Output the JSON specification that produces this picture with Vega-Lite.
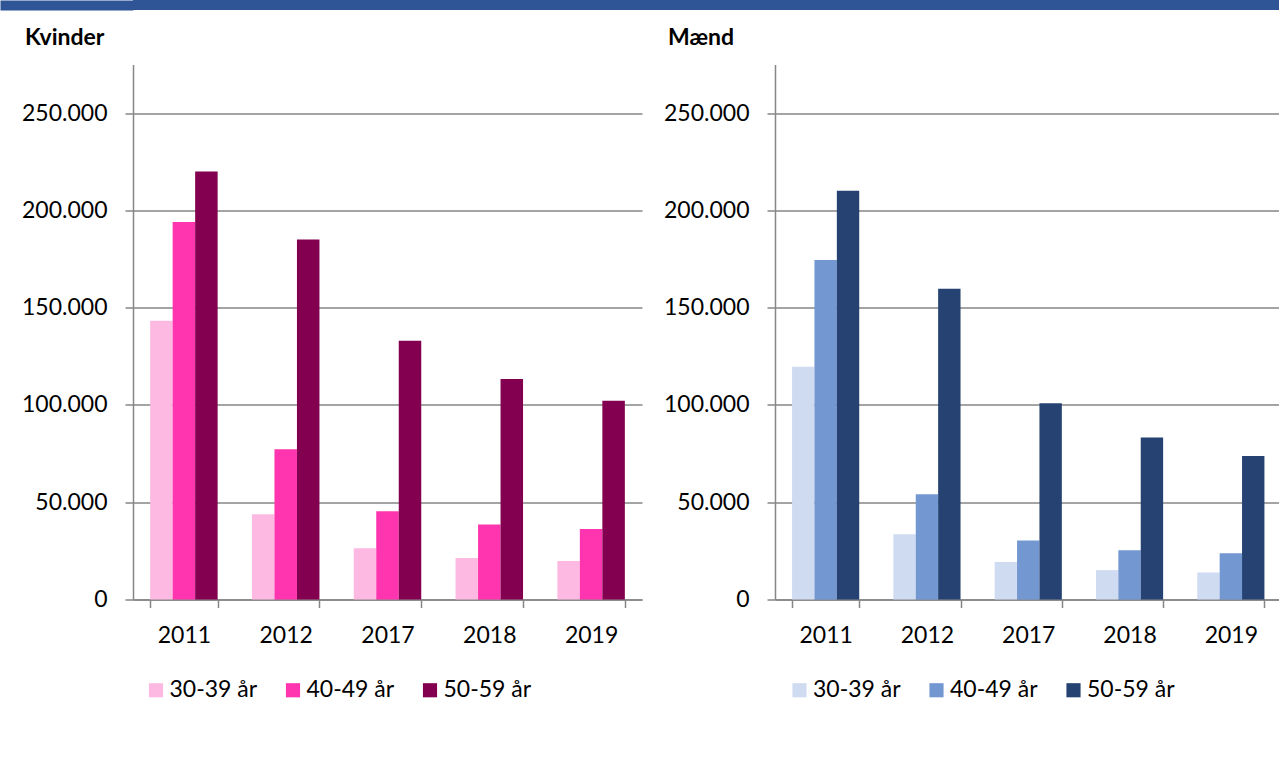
{
  "$schema": "https://vega.github.io/schema/vega-lite/v6.json",
  "padding": {"left": -5, "top": 0, "right": 0, "bottom": 0},
  "background": "white",
  "spacing": 16.5,
  "columns": 1,
  "align": "none",
  "config": {
    "font": "Lato",
    "locale": {"number": {"decimal": ",", "thousands": ".", "grouping": [3], "currency": ["", " kr."]}},
    "axis": {"labelFont": "Lato", "labelFontSize": 23, "labelColor": "#000000", "domainColor": "#868686", "tickColor": "#868686", "gridColor": "#868686", "domainWidth": 1.5, "tickWidth": 1.5, "gridWidth": 1.5},
    "legend": {"labelFont": "Lato", "labelFontSize": 23, "labelColor": "#000000"},
    "view": {"stroke": null}
  },
  "datasets": {
    "kvinder": [
      {"aar": "2011", "alder": "30-39 år", "antal": 143300},
      {"aar": "2011", "alder": "40-49 år", "antal": 194100},
      {"aar": "2011", "alder": "50-59 år", "antal": 220000},
      {"aar": "2012", "alder": "30-39 år", "antal": 43800},
      {"aar": "2012", "alder": "40-49 år", "antal": 77200},
      {"aar": "2012", "alder": "50-59 år", "antal": 185100},
      {"aar": "2017", "alder": "30-39 år", "antal": 26300},
      {"aar": "2017", "alder": "40-49 år", "antal": 45300},
      {"aar": "2017", "alder": "50-59 år", "antal": 133000},
      {"aar": "2018", "alder": "30-39 år", "antal": 21300},
      {"aar": "2018", "alder": "40-49 år", "antal": 38600},
      {"aar": "2018", "alder": "50-59 år", "antal": 113300},
      {"aar": "2019", "alder": "30-39 år", "antal": 19800},
      {"aar": "2019", "alder": "40-49 år", "antal": 36200},
      {"aar": "2019", "alder": "50-59 år", "antal": 102200}
    ],
    "maend": [
      {"aar": "2011", "alder": "30-39 år", "antal": 119600},
      {"aar": "2011", "alder": "40-49 år", "antal": 174500},
      {"aar": "2011", "alder": "50-59 år", "antal": 210100},
      {"aar": "2012", "alder": "30-39 år", "antal": 33500},
      {"aar": "2012", "alder": "40-49 år", "antal": 54100},
      {"aar": "2012", "alder": "50-59 år", "antal": 159700},
      {"aar": "2017", "alder": "30-39 år", "antal": 19300},
      {"aar": "2017", "alder": "40-49 år", "antal": 30300},
      {"aar": "2017", "alder": "50-59 år", "antal": 100900},
      {"aar": "2018", "alder": "30-39 år", "antal": 15100},
      {"aar": "2018", "alder": "40-49 år", "antal": 25300},
      {"aar": "2018", "alder": "50-59 år", "antal": 83300},
      {"aar": "2019", "alder": "30-39 år", "antal": 13900},
      {"aar": "2019", "alder": "40-49 år", "antal": 23800},
      {"aar": "2019", "alder": "50-59 år", "antal": 73800}
    ]
  },
  "concat": [
    {
      "width": 1146,
      "height": 10,
      "view": {"fill": "#2F5597", "stroke": null},
      "data": {"values": [{"a": 0.5}]},
      "mark": {"type": "point", "opacity": 0},
      "encoding": {
        "y": {"field": "a", "type": "quantitative", "scale": {"domain": [0, 1], "nice": false, "zero": false},
          "axis": {"title": null, "labels": false, "domain": false, "grid": false, "values": [0.5], "tickSize": 133, "tickWidth": 10, "tickColor": "#2F5597", "minExtent": 133, "maxExtent": 133}}
      }
    },
    {
      "spacing": 8,
      "resolve": {"scale": {"color": "independent", "x": "independent", "y": "independent", "xOffset": "independent"}, "legend": {"color": "independent"}},
      "hconcat": [
        {
          "width": 509,
          "height": 535,
          "title": {"text": "Kvinder", "anchor": "start", "frame": "group", "dx": -108, "offset": -3, "baseline": "alphabetic", "fontSize": 23, "fontWeight": "bold", "font": "Lato", "color": "#000000"},
          "data": {"name": "kvinder"},
          "mark": {"type": "bar"},
          "encoding": {
            "x": {"field": "aar", "type": "nominal", "scale": {"paddingInner": 0.337, "paddingOuter": 0.1685},
              "axis": {"title": null, "labelAngle": 0, "tickBand": "extent", "tickSize": 8, "labelPadding": 17}},
            "xOffset": {"field": "alder", "type": "nominal", "sort": ["30-39 år", "40-49 år", "50-59 år"], "scale": {"paddingInner": 0, "paddingOuter": 0}},
            "y": {"field": "antal", "type": "quantitative", "scale": {"domain": [0, 275000], "nice": false, "zero": true},
              "axis": {"title": null, "values": [0, 50000, 100000, 150000, 200000, 250000], "format": ",d", "grid": true, "tickSize": 8, "labelPadding": 18, "minExtent": 133, "maxExtent": 133}},
            "color": {"field": "alder", "type": "nominal",
              "scale": {"domain": ["30-39 år", "40-49 år", "50-59 år"], "range": ["#FDB9E1", "#FF35AF", "#82004F"]},
              "legend": {"orient": "none", "legendX": 11.5, "legendY": 614, "direction": "horizontal", "title": null, "symbolType": "square", "symbolSize": 200, "symbolStrokeWidth": 0, "columnPadding": 24, "labelOffset": 2, "padding": 0}}
          }
        },
        {
          "width": 506.5,
          "height": 535,
          "title": {"text": "Mænd", "anchor": "start", "frame": "group", "dx": -107, "offset": -3, "baseline": "alphabetic", "fontSize": 23, "fontWeight": "bold", "font": "Lato", "color": "#000000"},
          "data": {"name": "maend"},
          "mark": {"type": "bar"},
          "encoding": {
            "x": {"field": "aar", "type": "nominal", "scale": {"paddingInner": 0.337, "paddingOuter": 0.1685},
              "axis": {"title": null, "labelAngle": 0, "tickBand": "extent", "tickSize": 8, "labelPadding": 17}},
            "xOffset": {"field": "alder", "type": "nominal", "sort": ["30-39 år", "40-49 år", "50-59 år"], "scale": {"paddingInner": 0, "paddingOuter": 0}},
            "y": {"field": "antal", "type": "quantitative", "scale": {"domain": [0, 275000], "nice": false, "zero": true},
              "axis": {"title": null, "values": [0, 50000, 100000, 150000, 200000, 250000], "format": ",d", "grid": true, "tickSize": 8, "labelPadding": 18, "minExtent": 125, "maxExtent": 125}},
            "color": {"field": "alder", "type": "nominal",
              "scale": {"domain": ["30-39 år", "40-49 år", "50-59 år"], "range": ["#CFDBF1", "#7397D1", "#254272"]},
              "legend": {"orient": "none", "legendX": 13, "legendY": 614, "direction": "horizontal", "title": null, "symbolType": "square", "symbolSize": 200, "symbolStrokeWidth": 0, "columnPadding": 24, "labelOffset": 2, "padding": 0}}
          }
        }
      ]
    }
  ]
}
